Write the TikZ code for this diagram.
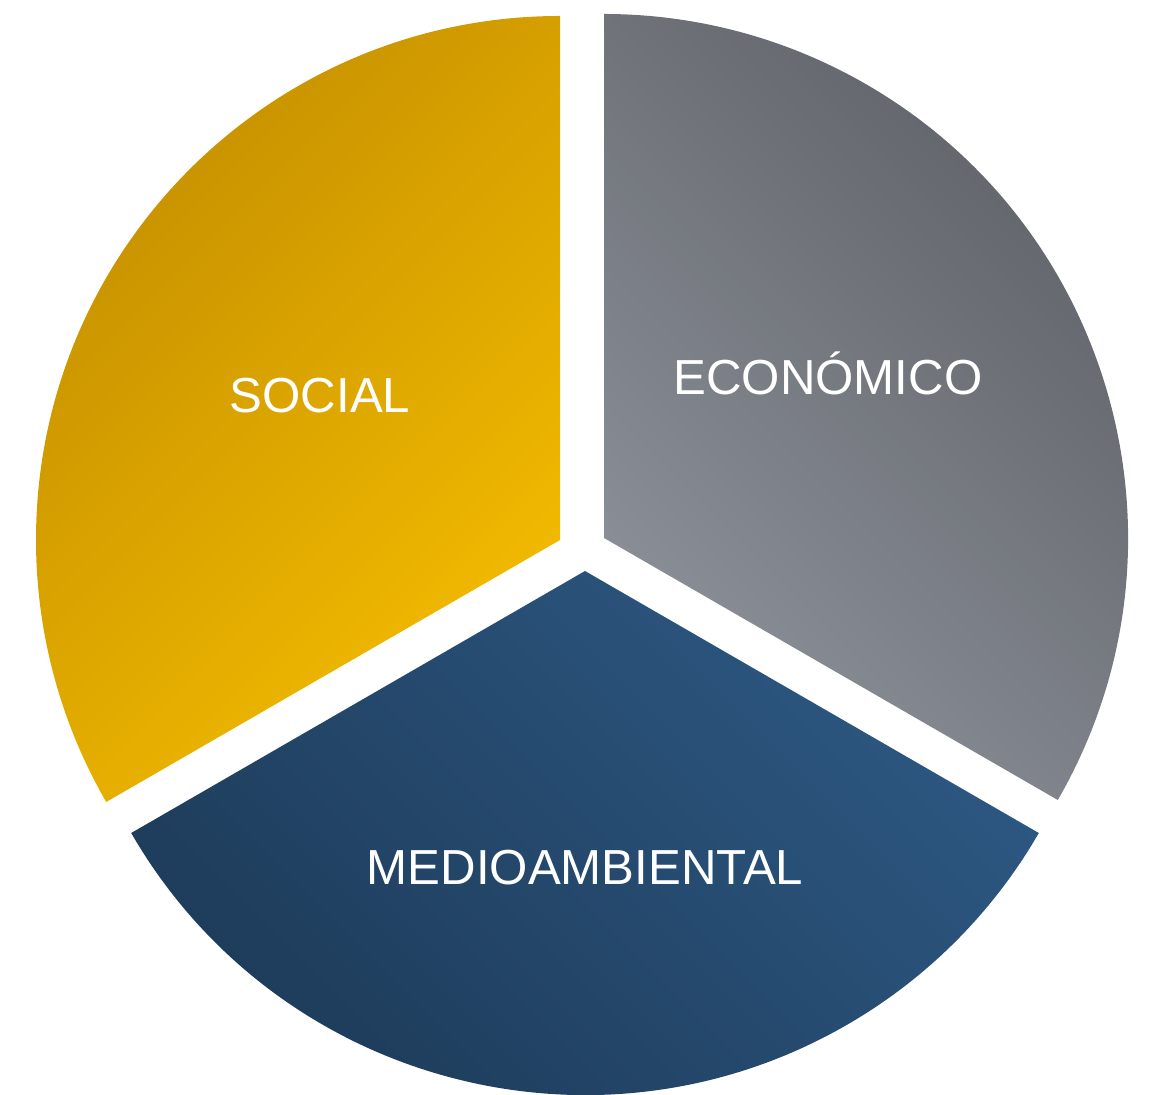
\documentclass[tikz,border=0pt]{standalone}
\usepackage{fontspec}
\setmainfont{Liberation Sans}
\usetikzlibrary{calc}

\definecolor{socdark}{HTML}{C48F00}
\definecolor{soclight}{HTML}{F4BC00}
\definecolor{ecodark}{HTML}{5C5F65}
\definecolor{ecolight}{HTML}{8C9098}
\definecolor{meddark}{HTML}{1D3A58}
\definecolor{medlight}{HTML}{2D5882}

\begin{document}
\begin{tikzpicture}
		\tikzstyle{etiqueta}=[text=white,font=\fontsize{14}{16}\selectfont,anchor=base,inner sep=0pt]
		\pgfmathsetmacro\radio{5.24}
		\useasboundingbox (0,0) rectangle (11.49,10.94);
		%% social sector
		\coordinate (cs) at (5.60,5.54);
		\shade[top color=socdark,bottom color=soclight,shading angle=45]
			(cs) -- ++(90:\radio) arc[start angle=90,end angle=210,radius=\radio] -- cycle;
		%% economic sector
		\coordinate (ce) at (6.04,5.56);
		\shade[top color=ecodark,bottom color=ecolight,shading angle=-45]
			(ce) -- ++(-30:\radio) arc[start angle=-30,end angle=90,radius=\radio] -- cycle;
		%% environmental sector
		\coordinate (cm) at (5.85,5.23);
		\shade[top color=medlight,bottom color=meddark,shading angle=-45]
			(cm) -- ++(210:\radio) arc[start angle=210,end angle=330,radius=\radio] -- cycle;
		%% labels
		\node[etiqueta] (social) at (3.20,6.81) {SOCIAL};
		\node[etiqueta] (economico) at (8.28,6.99) {ECONÓMICO};
		\node[etiqueta] (medio) at (5.85,2.09) {MEDIOAMBIENTAL};
	\end{tikzpicture}
\end{document}
